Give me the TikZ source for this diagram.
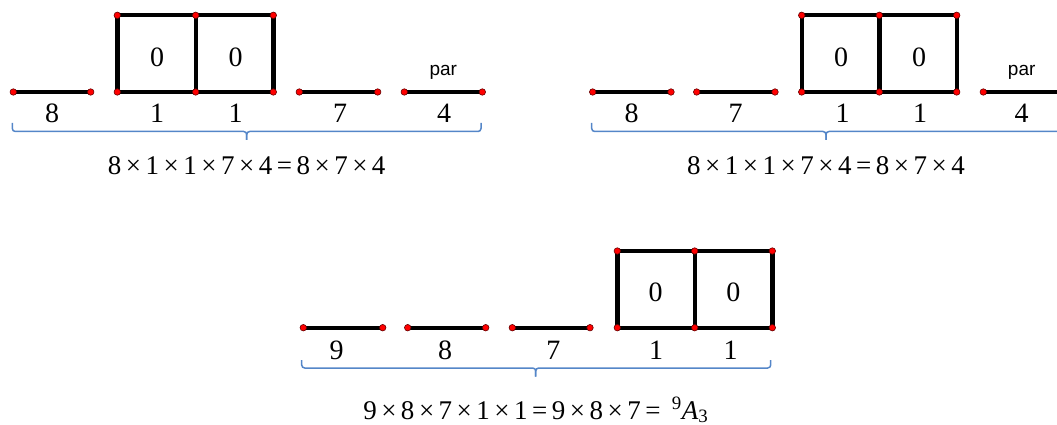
\documentclass[tikz,border=0pt]{standalone}
\usepackage{fontspec}
\setmainfont{Liberation Serif}
\newfontfamily\arialf{Liberation Sans}
\definecolor{braceblue}{RGB}{84,134,200}
\newcommand\mytimes{\,×\,}
\newcommand\myeq{\,=\,}
\begin{document}
\begin{tikzpicture}[x=1pt,y=-1pt,
  seg/.style={line width=4.4pt,line join=miter},
  dot/.style={circle,fill=red,draw=black!60!red,line width=0.6pt,inner sep=0pt,minimum size=6.5pt},
  lab/.style={font=\fontsize{28}{30}\selectfont,anchor=base,inner sep=0pt},
  eqn/.style={font=\fontsize{27}{30}\selectfont,anchor=base,inner sep=0pt},
  partxt/.style={font=\arialf\fontsize{19}{20}\selectfont,anchor=base,inner sep=0pt},
  brc/.style={draw=braceblue,line width=1.5pt,rounded corners=3pt}]
\useasboundingbox (0,0) rectangle (1057,425);
\clip (0,0) rectangle (1057,425);
% ---------- group 1 ----------
\coordinate (a1) at (13.3,92);
\coordinate (a2) at (90.7,92);
\coordinate (a3) at (117.3,92);
\coordinate (a4) at (195.7,92);
\coordinate (a5) at (273.3,92);
\coordinate (a6) at (117.3,15.3);
\coordinate (a7) at (195.7,15.3);
\coordinate (a8) at (273.3,15.3);
\coordinate (a9) at (299.3,92);
\coordinate (a10) at (377.7,92);
\coordinate (a11) at (404.3,92);
\coordinate (a12) at (482.3,92);
\draw[seg] (a1) -- (a2);
\draw[seg] (a3) rectangle (a8);
\draw[seg] (a4) -- (a7);
\draw[seg] (a9) -- (a10);
\draw[seg] (a11) -- (a12);
\foreach \p in {a1,a2,a3,a4,a5,a6,a7,a8,a9,a10,a11,a12} \node[dot] (d-\p) at (\p) {};
\node[lab] (g1z1) at (157,66.5) {0};
\node[lab] (g1z2) at (235.5,66.5) {0};
\node[partxt] (g1par) at (443.3,76) {par};
\node[lab] (g1l1) at (52,122.5) {8};
\node[lab] (g1l2) at (157,122.5) {1};
\node[lab] (g1l3) at (235.5,122.5) {1};
\node[lab] (g1l4) at (340,122.5) {7};
\node[lab] (g1l5) at (444,122.5) {4};
\coordinate (g1b1) at (12.3,123);
\coordinate (g1b2) at (481,123);
\coordinate (g1bm) at (246.7,131.5);
\coordinate (g1bt) at (246.7,140);
\draw[brc] (g1b1) |- (g1bm) -- (g1bt);
\draw[brc] (g1b2) |- (g1bm) -- (g1bt);
\node[eqn] (g1eq) at (246.7,174) {8\mytimes1\mytimes1\mytimes7\mytimes4\myeq8\mytimes7\mytimes4};
% ---------- group 2 ----------
\coordinate (b1) at (592.7,92);
\coordinate (b2) at (671,92);
\coordinate (b3) at (696.7,92);
\coordinate (b4) at (775,92);
\coordinate (b5) at (801.7,92);
\coordinate (b6) at (879.3,92);
\coordinate (b7) at (956.7,92);
\coordinate (b8) at (801.7,15.3);
\coordinate (b9) at (879.3,15.3);
\coordinate (b10) at (956.7,15.3);
\coordinate (b11) at (983.3,92);
\coordinate (b12) at (1061.5,92);
\draw[seg] (b1) -- (b2);
\draw[seg] (b3) -- (b4);
\draw[seg] (b5) rectangle (b10);
\draw[seg] (b6) -- (b9);
\draw[seg] (b11) -- (b12);
\foreach \p in {b1,b2,b3,b4,b5,b6,b7,b8,b9,b10,b11,b12} \node[dot] (d-\p) at (\p) {};
\node[lab] (g2z1) at (841,66.5) {0};
\node[lab] (g2z2) at (919,66.5) {0};
\node[partxt] (g2par) at (1021.7,76) {par};
\node[lab] (g2l1) at (631.7,122.5) {8};
\node[lab] (g2l2) at (735.7,122.5) {7};
\node[lab] (g2l3) at (842.7,122.5) {1};
\node[lab] (g2l4) at (920,122.5) {1};
\node[lab] (g2l5) at (1021.7,122.5) {4};
\coordinate (g2b1) at (591.7,123);
\coordinate (g2b2) at (1060.3,123);
\coordinate (g2bm) at (826,131.5);
\coordinate (g2bt) at (826,140);
\draw[brc] (g2b1) |- (g2bm) -- (g2bt);
\draw[brc] (g2b2) |- (g2bm) -- (g2bt);
\node[eqn] (g2eq) at (826,174) {8\mytimes1\mytimes1\mytimes7\mytimes4\myeq8\mytimes7\mytimes4};
% ---------- group 3 ----------
\coordinate (c1) at (303.3,327.7);
\coordinate (c2) at (382.7,327.7);
\coordinate (c3) at (407.7,327.7);
\coordinate (c4) at (485.7,327.7);
\coordinate (c5) at (512.3,327.7);
\coordinate (c6) at (590,327.7);
\coordinate (c7) at (617.3,327.7);
\coordinate (c8) at (694.7,327.7);
\coordinate (c9) at (772.3,327.7);
\coordinate (c10) at (617.3,251);
\coordinate (c11) at (694.7,251);
\coordinate (c12) at (772.3,251);
\draw[seg] (c1) -- (c2);
\draw[seg] (c3) -- (c4);
\draw[seg] (c5) -- (c6);
\draw[seg] (c7) rectangle (c12);
\draw[seg] (c8) -- (c11);
\foreach \p in {c1,c2,c3,c4,c5,c6,c7,c8,c9,c10,c11,c12} \node[dot] (d-\p) at (\p) {};
\node[lab] (g3z1) at (655.7,301.5) {0};
\node[lab] (g3z2) at (733.3,301.5) {0};
\node[lab] (g3l1) at (336.7,359) {9};
\node[lab] (g3l2) at (445,359) {8};
\node[lab] (g3l3) at (553.3,359) {7};
\node[lab] (g3l4) at (656,359) {1};
\node[lab] (g3l5) at (730.7,359) {1};
\coordinate (g3b1) at (301.7,360);
\coordinate (g3b2) at (770.7,360);
\coordinate (g3bm) at (535.7,368);
\coordinate (g3bt) at (535.7,376.7);
\draw[brc] (g3b1) |- (g3bm) -- (g3bt);
\draw[brc] (g3b2) |- (g3bm) -- (g3bt);
\node[eqn] (g3eq) at (535.8,419) {9\mytimes8\mytimes7\mytimes1\mytimes1\myeq9\mytimes8\mytimes7\myeq\ \textsuperscript{9}\textit{A}\textsubscript{3}};
\end{tikzpicture}
\end{document}
